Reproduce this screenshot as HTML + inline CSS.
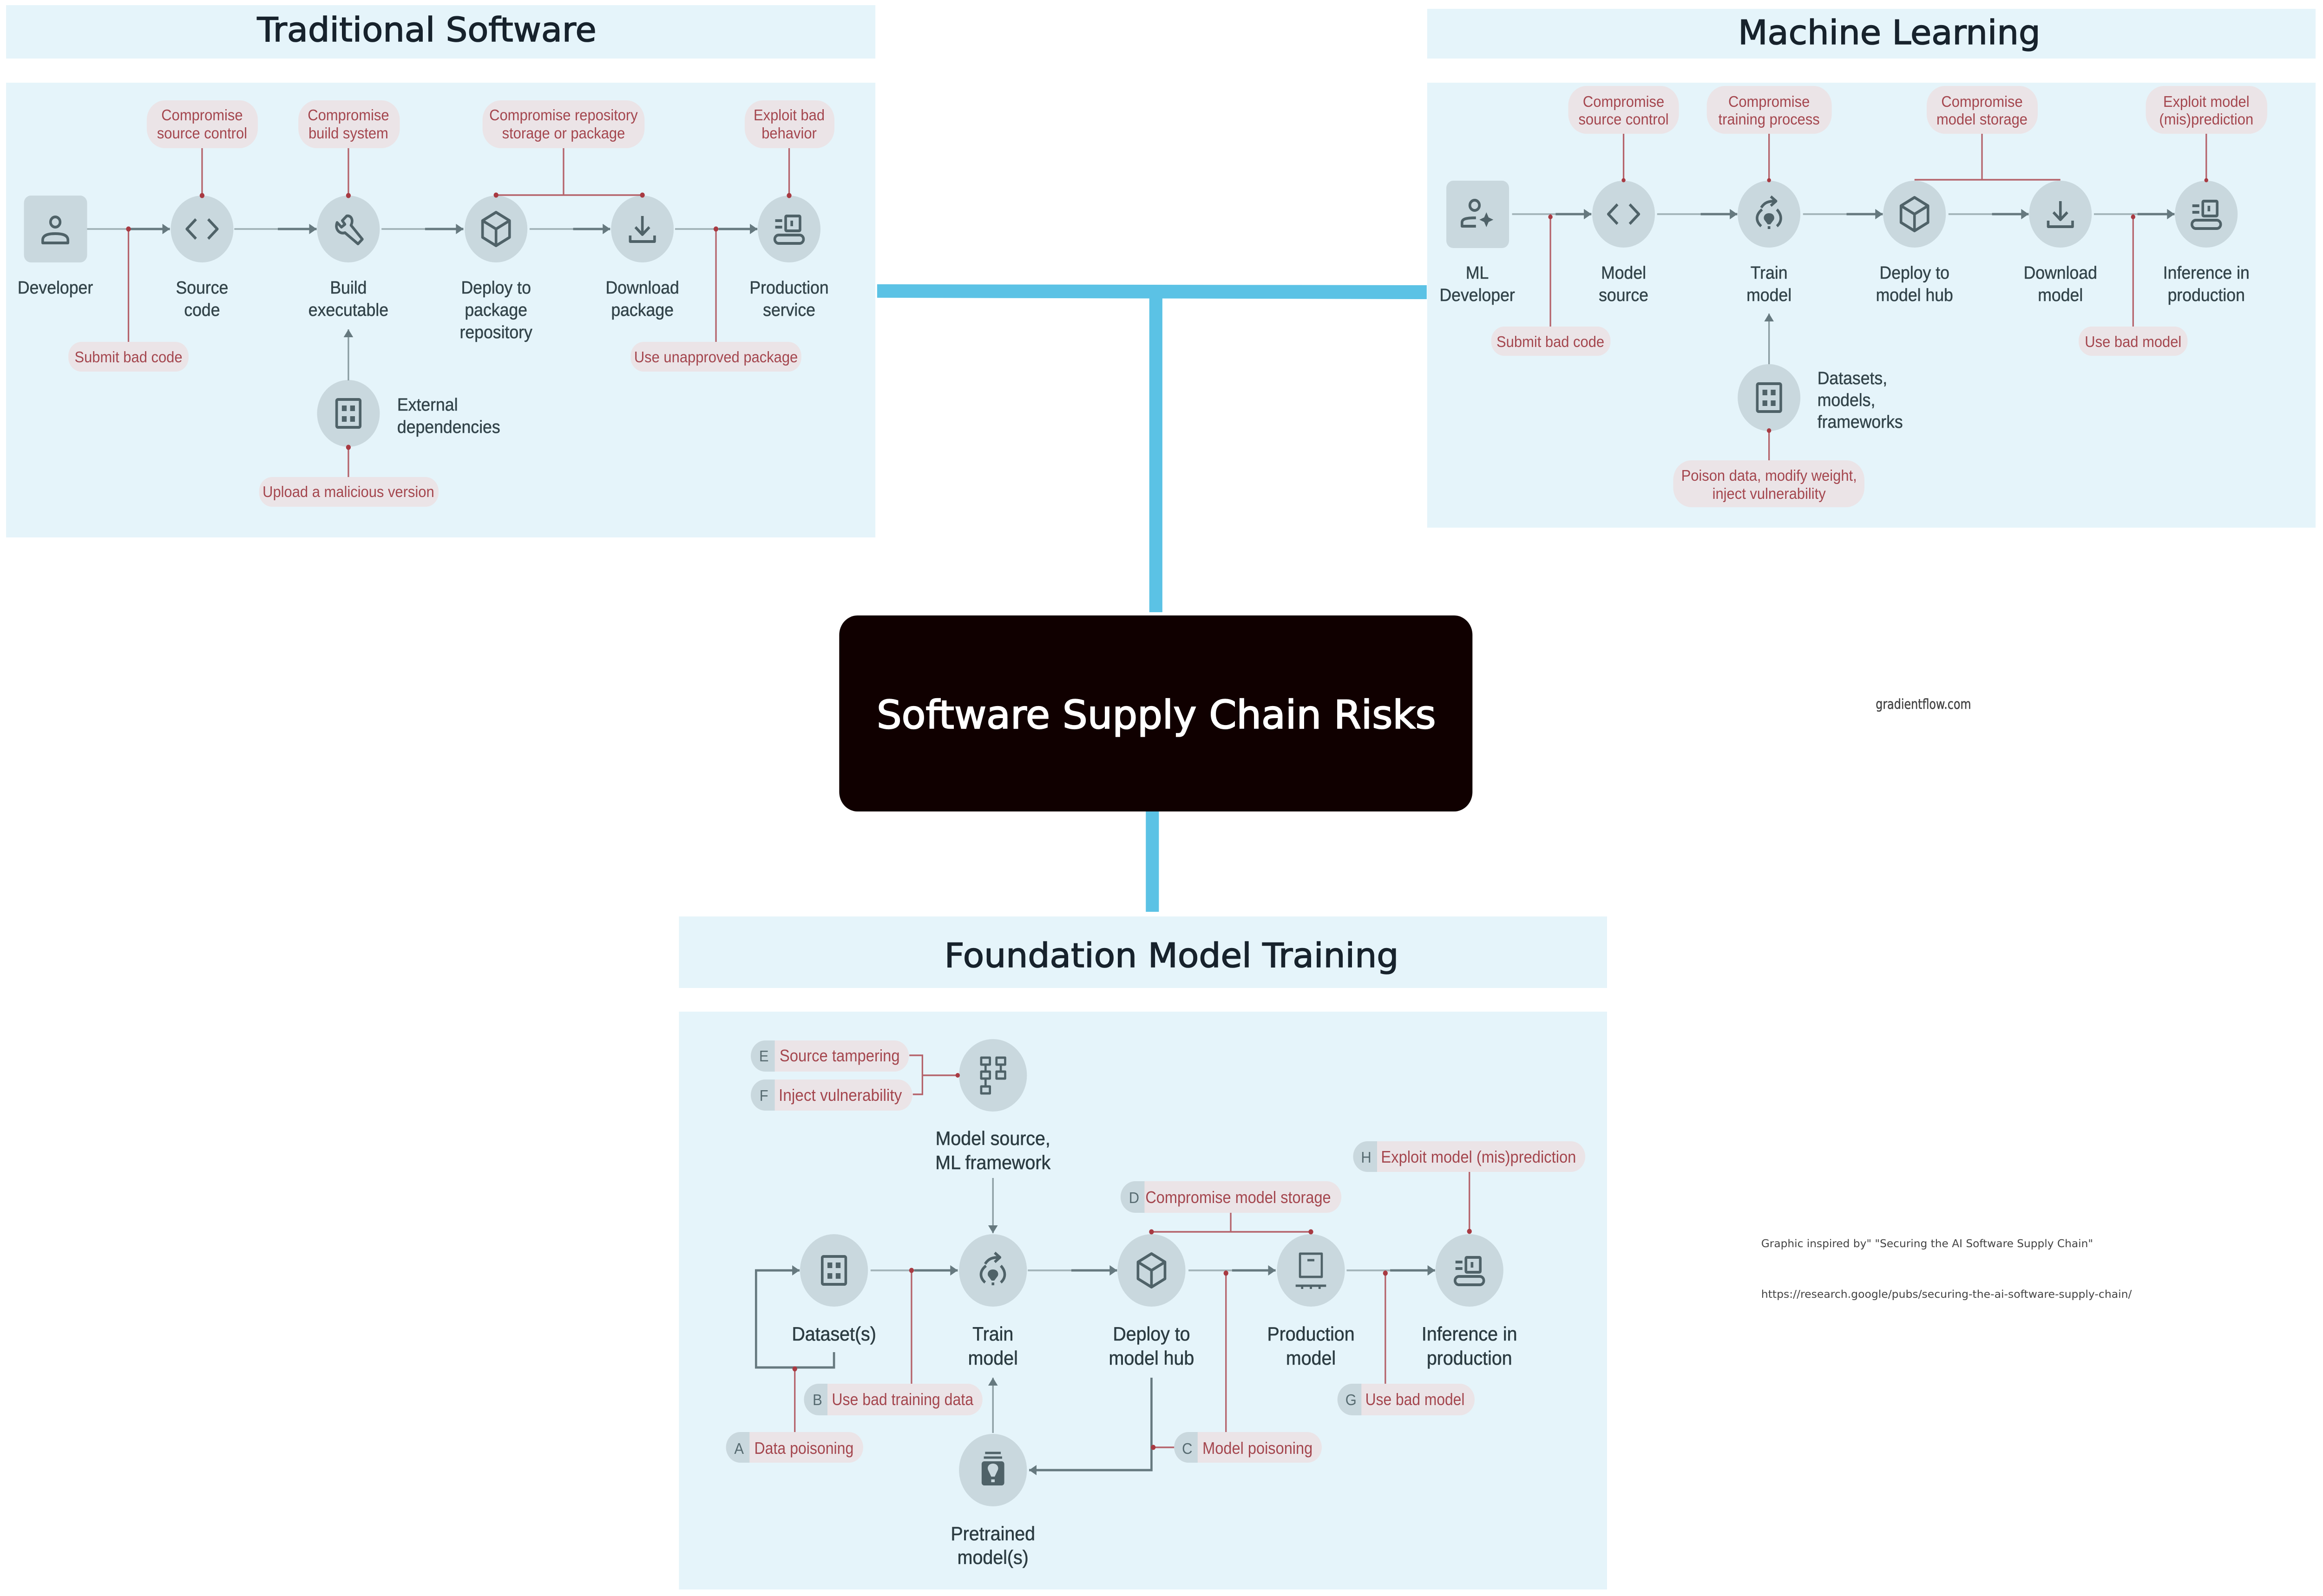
<!DOCTYPE html>
<html><head><meta charset="utf-8"><title>Software Supply Chain Risks</title>
<style>
html,body{margin:0;padding:0;background:#fff;width:100%;height:100%;overflow:hidden}
svg{display:block;position:absolute;left:0;top:0;width:100vw;height:100vh}
text{font-family:"Liberation Sans",sans-serif}
.t{font-family:"DejaVu Sans",sans-serif;font-size:72px;fill:#17222c;text-anchor:middle;stroke:#17222c;stroke-width:1.6}
.l{font-size:38px;fill:#33444a;text-anchor:middle;stroke:#33444a;stroke-width:.5}
.ls{font-size:38px;fill:#33444a;stroke:#33444a;stroke-width:.5}
.f{font-size:42px;fill:#2c3c42;text-anchor:middle;stroke:#2c3c42;stroke-width:.6}
.p{font-size:33px;fill:#a4464e;text-anchor:middle}
.q{font-size:36px;fill:#a4464e}
.k{font-size:33px;fill:#566a70;text-anchor:middle}
.n{fill:#c9d8de}
.pk{fill:#ebe4e7}
.gl{stroke:#a5b6bb;stroke-width:4;fill:none}
.g2{stroke:#66797f;stroke-width:5;fill:none;stroke-dasharray:0 100 400}
.gd{stroke:#66797f;stroke-width:5;fill:none}
.gt{stroke:#8a9ca1;stroke-width:3.5;fill:none}
.r{stroke:#b5636b;stroke-width:3.5;fill:none}
.d{fill:#a83a42}
.i{stroke:#4f6268;stroke-width:6;fill:none;stroke-linejoin:round}
.if{fill:#4f6268}
</style></head><body>
<svg xmlns="http://www.w3.org/2000/svg" viewBox="0 0 5334 3436" preserveAspectRatio="none">
<defs>
<marker id="a" markerUnits="userSpaceOnUse" markerWidth="22" markerHeight="26" refX="18" refY="13" orient="auto"><path d="M1 2 L18 13 L1 24Z" fill="#66797f"/></marker>
<g id="A1"><path d="M200 493 H390" marker-end="url(#a)"/><path d="M538 493 H727" marker-end="url(#a)"/><path d="M876 493 H1064" marker-end="url(#a)"/><path d="M1216 493 H1401" marker-end="url(#a)"/><path d="M1550 493 H1739" marker-end="url(#a)"/></g>
<g id="A2"><path d="M3472 461 H3654" marker-end="url(#a)"/><path d="M3805 461 H3989" marker-end="url(#a)"/><path d="M4140 461 H4323" marker-end="url(#a)"/><path d="M4474 461 H4658" marker-end="url(#a)"/><path d="M4808 461 H4993" marker-end="url(#a)"/></g>
<g id="A3"><path d="M1999 2735 H2199" marker-end="url(#a)"/><path d="M2360 2735 H2565" marker-end="url(#a)"/><path d="M2729 2735 H2929" marker-end="url(#a)"/><path d="M3092 2735 H3295" marker-end="url(#a)"/></g>
<g id="code" class="i"><path d="M-14 -21 L-35 0 L-14 21M14 -21 L35 0 L14 21"/></g>
<g id="wrench" class="i"><path d="M-4 -28 L-14 -18 L-8 -10 L-16 -4 L-26 -14 C-32 0 -20 12 -8 8 L22 32 L32 22 L6 -8 C12 -20 6 -30 -4 -28Z"/></g>
<g id="cube" class="i"><path d="M0 -36 L31 -18 V18 L0 36 L-31 18 V-18ZM-31 -18 L0 0 L31 -18M0 0 V36"/></g>
<g id="dl" class="i"><path d="M0 -28 V12M-16 -4 L0 12 L16 -4M-28 14 V27 H28 V14"/></g>
<g id="inf" class="i"><rect x="-8" y="-28" width="33" height="32" rx="2"/><path d="M-32 -18 H-16M-32 -4 H-16M6 -18 V-6" /><rect x="-33" y="13" width="66" height="18" rx="9"/></g>
<g id="grid"><rect class="i" x="-27" y="-30" width="54" height="60" rx="3"/><rect class="if" x="-15" y="-17" width="11" height="12"/><rect class="if" x="4" y="-17" width="11" height="12"/><rect class="if" x="-15" y="6" width="11" height="12"/><rect class="if" x="4" y="6" width="11" height="12"/></g>
<g id="train"><path class="i" d="M-16 -10 C-32 2 -30 16 -18 26M18 -10 C30 2 30 16 18 26M-18 -14 C-10 -26 0 -28 14 -28M4 -38 L16 -28 L4 -18"/><path class="if" d="M0 -2 C10 -2 14 6 11 12 L3 22 H-3 L-11 12 C-14 6 -10 -2 0 -2Z"/><rect class="if" x="-3" y="26" width="6" height="6"/></g>
<g id="flow" class="i" style="stroke-width:5"><rect x="-27" y="-38" width="20" height="15"/><rect x="-27" y="-8" width="20" height="15"/><rect x="-27" y="24" width="20" height="15"/><rect x="8" y="-38" width="20" height="15"/><rect x="8" y="-8" width="20" height="15"/><path d="M-17 -23 V-8M-17 7 V24M18 -23 V-8"/></g>
<g id="prod" class="i" style="stroke-width:5"><rect x="-25" y="-36" width="50" height="50"/><path d="M-8 -22 H8M-35 33 H35M-20 33 V40M0 33 V40M20 33 V40"/></g>
<g id="pre"><path class="i" d="M-18 -37 H18M-21 -27 H21" style="stroke-width:5"/><rect class="if" x="-26" y="-19" width="52" height="52" rx="6"/><path class="n" d="M0 -14 C10 -14 14 -6 11 0 L4 14 H-4 L-11 0 C-14 -6 -10 -14 0 -14Z"/><rect class="n" x="-4" y="20" width="8" height="6"/></g>
</defs>

<!-- connectors -->
<g fill="#5bc2e5">
<polygon points="2014,612 3276,614 3276,644 2014,641"/>
<rect x="2639" y="625" width="30" height="693"/>
<rect x="2631" y="1740" width="30" height="223"/>
</g>
<rect x="1927" y="1325" width="1454" height="422" rx="42" fill="#100000"/>
<text x="2655" y="1568" font-size="84" text-anchor="middle" textLength="1284" lengthAdjust="spacingAndGlyphs" style='font-family:"DejaVu Sans",sans-serif;fill:#fff;stroke:#fff;stroke-width:2.2'>Software Supply Chain Risks</text>

<text x="4307" y="1526" textLength="219" lengthAdjust="spacingAndGlyphs" style='font-family:"DejaVu Sans",sans-serif;font-size:29px;fill:#444;stroke:#444;stroke-width:.5'>gradientflow.com</text>
<text x="4044" y="2685" textLength="762" lengthAdjust="spacingAndGlyphs" style='font-family:"DejaVu Sans",sans-serif;font-size:23px;fill:#444'>Graphic inspired by"  "Securing the AI Software Supply Chain"</text>
<text x="4044" y="2794" textLength="851" lengthAdjust="spacingAndGlyphs" style='font-family:"DejaVu Sans",sans-serif;font-size:23px;fill:#444'>https://research.google/pubs/securing-the-ai-software-supply-chain/</text>

<!-- ============ Traditional ============ -->
<rect x="14" y="11" width="1996" height="115" fill="#e5f4fa"/>
<text class="t" x="980" y="89" textLength="779" lengthAdjust="spacingAndGlyphs">Traditional Software</text>
<rect x="14" y="178" width="1996" height="979" fill="#e5f4fa"/>

<rect class="n" x="55" y="421" width="145" height="144" rx="16"/>
<circle class="n" cx="464" cy="493" r="72"/><circle class="n" cx="800" cy="493" r="72"/><circle class="n" cx="1139" cy="493" r="72"/><circle class="n" cx="1475" cy="493" r="72"/><circle class="n" cx="1812" cy="493" r="72"/><circle class="n" cx="800" cy="890" r="72"/>
<g class="i" transform="translate(127,493)"><circle cx="0" cy="-15" r="11"/><path d="M-29 30 V24 C-29 12 -14 10 0 10 C14 10 29 12 29 24 V30Z"/></g>
<use href="#code" x="464" y="493"/><use href="#wrench" x="800" y="493"/><use href="#cube" x="1139" y="493"/><use href="#dl" x="1475" y="493"/><use href="#inf" x="1812" y="493"/><use href="#grid" x="800" y="890"/>

<use href="#A1" class="gl"/><use href="#A1" class="g2"/>
<path class="gt" d="M800 819 V709" marker-end="url(#a)"/>

<g class="pk">
<rect x="337" y="216" width="255" height="103" rx="42"/><rect x="685" y="216" width="233" height="103" rx="42"/><rect x="1108" y="216" width="372" height="103" rx="42"/><rect x="1710" y="216" width="206" height="103" rx="42"/><rect x="157" y="736" width="276" height="64" rx="30"/><rect x="1448" y="736" width="392" height="64" rx="30"/><rect x="595" y="1027" width="412" height="64" rx="30"/>
</g>
<path class="r" d="M464 319 V421M800 319 V421M1812 319 V421M1294 319 V420M1139 420 H1475M295 493 V736M1644 493 V736M800 963 V1027"/>
<g class="d"><circle cx="464" cy="421" r="5.5"/><circle cx="800" cy="421" r="5.5"/><circle cx="1812" cy="421" r="5.5"/><circle cx="1139" cy="420" r="5.5"/><circle cx="1475" cy="420" r="5.5"/><circle cx="295" cy="493" r="5.5"/><circle cx="1644" cy="493" r="5.5"/><circle cx="800" cy="963" r="5.5"/></g>

<text class="l" x="127" y="632">Developer</text>
<text class="l" x="464" y="632">Source</text><text class="l" x="464" y="680">code</text>
<text class="l" x="800" y="632">Build</text><text class="l" x="800" y="680">executable</text>
<text class="l" x="1139" y="632">Deploy to</text><text class="l" x="1139" y="680">package</text><text class="l" x="1139" y="728">repository</text>
<text class="l" x="1475" y="632">Download</text><text class="l" x="1475" y="680">package</text>
<text class="l" x="1812" y="632">Production</text><text class="l" x="1812" y="680">service</text>
<text class="ls" x="912" y="884">External</text><text class="ls" x="912" y="932">dependencies</text>

<text class="p" x="464" y="259">Compromise</text><text class="p" x="464" y="298">source control</text>
<text class="p" x="800" y="259">Compromise</text><text class="p" x="800" y="298">build system</text>
<text class="p" x="1294" y="259">Compromise repository</text><text class="p" x="1294" y="298">storage or package</text>
<text class="p" x="1812" y="259">Exploit bad</text><text class="p" x="1812" y="298">behavior</text>
<text class="p" x="295" y="780">Submit bad code</text>
<text class="p" x="1644" y="780">Use unapproved package</text>
<text class="p" x="800" y="1070">Upload a malicious version</text>

<!-- ============ ML ============ -->
<rect x="3277" y="19" width="2040" height="107" fill="#e5f4fa"/>
<text class="t" x="4338" y="95" textLength="694" lengthAdjust="spacingAndGlyphs">Machine Learning</text>
<rect x="3277" y="178" width="2040" height="958" fill="#e5f4fa"/>

<rect class="n" x="3321" y="389" width="144" height="145" rx="16"/>
<circle class="n" cx="3728" cy="461" r="72"/><circle class="n" cx="4062" cy="461" r="72"/><circle class="n" cx="4396" cy="461" r="72"/><circle class="n" cx="4731" cy="461" r="72"/><circle class="n" cx="5066" cy="461" r="72"/><circle class="n" cx="4062" cy="856" r="72"/>
<g transform="translate(3393,461)"><circle class="i" cx="-7" cy="-19" r="11"/><path class="i" d="M-4 8 C-26 8 -36 10 -36 18 V26 H-4"/><path class="if" d="M20 -4 L25 7 L36 12 L25 17 L20 28 L15 17 L4 12 L15 7Z"/></g>
<use href="#code" x="3728" y="461"/><use href="#train" x="4062" y="461"/><use href="#cube" x="4396" y="461"/><use href="#dl" x="4731" y="461"/><use href="#inf" x="5066" y="461"/><use href="#grid" x="4062" y="856"/>

<use href="#A2" class="gl"/><use href="#A2" class="g2"/>
<path class="gt" d="M4062 784 V675" marker-end="url(#a)"/>

<g class="pk">
<rect x="3601" y="185" width="254" height="103" rx="42"/><rect x="3919" y="185" width="287" height="103" rx="42"/><rect x="4424" y="185" width="255" height="103" rx="42"/><rect x="4927" y="185" width="279" height="103" rx="42"/><rect x="3424" y="703" width="274" height="63" rx="30"/><rect x="4773" y="703" width="250" height="63" rx="30"/><rect x="3842" y="991" width="439" height="101" rx="42"/>
</g>
<path class="r" d="M3728 288 V389M4062 288 V389M5066 288 V389M4551 288 V387M4396 387 H4731M3560 461 V703M4898 461 V703M4062 927 V991"/>
<g class="d"><circle cx="3728" cy="388" r="4.5"/><circle cx="4062" cy="388" r="4.5"/><circle cx="5066" cy="388" r="4.5"/><circle cx="3560" cy="467" r="5"/><circle cx="4898" cy="467" r="5"/><circle cx="4062" cy="927" r="5"/></g>

<text class="l" x="3392" y="600">ML</text><text class="l" x="3392" y="648">Developer</text>
<text class="l" x="3728" y="600">Model</text><text class="l" x="3728" y="648">source</text>
<text class="l" x="4062" y="600">Train</text><text class="l" x="4062" y="648">model</text>
<text class="l" x="4396" y="600">Deploy to</text><text class="l" x="4396" y="648">model hub</text>
<text class="l" x="4731" y="600">Download</text><text class="l" x="4731" y="648">model</text>
<text class="l" x="5066" y="600">Inference in</text><text class="l" x="5066" y="648">production</text>
<text class="ls" x="4173" y="827">Datasets,</text><text class="ls" x="4173" y="874">models,</text><text class="ls" x="4173" y="921">frameworks</text>

<text class="p" x="3728" y="230">Compromise</text><text class="p" x="3728" y="268">source control</text>
<text class="p" x="4062" y="230">Compromise</text><text class="p" x="4062" y="268">training process</text>
<text class="p" x="4551" y="230">Compromise</text><text class="p" x="4551" y="268">model storage</text>
<text class="p" x="5066" y="230">Exploit model</text><text class="p" x="5066" y="268">(mis)prediction</text>
<text class="p" x="3560" y="747">Submit bad code</text>
<text class="p" x="4898" y="747">Use bad model</text>
<text class="p" x="4062" y="1035">Poison data, modify weight,</text><text class="p" x="4062" y="1074">inject vulnerability</text>

<!-- ============ Foundation ============ -->
<rect x="1559" y="1973" width="2131" height="154" fill="#e5f4fa"/>
<text class="t" x="2690" y="2082" textLength="1043" lengthAdjust="spacingAndGlyphs">Foundation Model Training</text>
<rect x="1559" y="2178" width="2131" height="1244" fill="#e5f4fa"/>

<circle class="n" cx="1915" cy="2735" r="78"/><circle class="n" cx="2280" cy="2735" r="78"/><circle class="n" cx="2644" cy="2735" r="78"/><circle class="n" cx="3010" cy="2735" r="78"/><circle class="n" cx="3374" cy="2735" r="78"/><circle class="n" cx="2280" cy="2315" r="78"/><circle class="n" cx="2280" cy="3165" r="78"/>
<use href="#grid" x="1915" y="2735"/><use href="#train" x="2280" y="2735"/><use href="#cube" x="2644" y="2735"/><use href="#prod" x="3010" y="2735"/><use href="#inf" x="3374" y="2735"/><use href="#flow" x="2280" y="2315"/><use href="#pre" x="2280" y="3165"/>

<use href="#A3" class="gl"/><use href="#A3" class="g2"/>
<path class="gd" d="M1915 2911 V2944 H1736 V2735 H1836" marker-end="url(#a)"/>
<path class="gt" d="M2280 2536 V2655" marker-end="url(#a)"/>
<path class="gt" d="M2280 3085 V2966" marker-end="url(#a)"/>
<path class="gd" d="M2644 2966 V3165 H2363" marker-end="url(#a)"/>

<g class="pk">
<rect x="1724" y="2240" width="363" height="67" rx="33.5"/><rect x="1724" y="2324" width="371" height="67" rx="33.5"/><rect x="3107" y="2457" width="533" height="66" rx="33"/><rect x="2573" y="2543" width="507" height="68" rx="34"/><rect x="1846" y="2979" width="410" height="68" rx="34"/><rect x="3071" y="2979" width="315" height="68" rx="34"/><rect x="1667" y="3083" width="315" height="66" rx="33"/><rect x="2696" y="3083" width="339" height="66" rx="33"/>
</g>
<g class="n">
<path d="M1779 2240 H1757.5 A33.5 33.5 0 0 0 1757.5 2307 H1779Z"/>
<path d="M1779 2324 H1757.5 A33.5 33.5 0 0 0 1757.5 2391 H1779Z"/>
<path d="M3162 2457 H3140 A33 33 0 0 0 3140 2523 H3162Z"/>
<path d="M2628 2543 H2607 A34 34 0 0 0 2607 2611 H2628Z"/>
<path d="M1900 2979 H1880 A34 34 0 0 0 1880 3047 H1900Z"/>
<path d="M3126 2979 H3105 A34 34 0 0 0 3105 3047 H3126Z"/>
<path d="M1721 3083 H1700 A33 33 0 0 0 1700 3149 H1721Z"/>
<path d="M2750 3083 H2729 A33 33 0 0 0 2729 3149 H2750Z"/>
</g>

<path class="r" d="M2088 2272 H2118 V2356 H2096M2118 2315 H2198M3374 2523 V2650M2826 2611 V2652M2644 2652 H3010M2093 2735 V2979M2815 2735 V3083M3181 2735 V2979M1825 2947 V3083M2696 3116 H2648"/>
<g class="d"><circle cx="2199" cy="2315" r="5"/><circle cx="3374" cy="2651" r="5.5"/><circle cx="2644" cy="2652" r="5.5"/><circle cx="3010" cy="2652" r="5.5"/><circle cx="2093" cy="2735" r="5.5"/><circle cx="2815" cy="2741" r="5.5"/><circle cx="3181" cy="2741" r="5.5"/><circle cx="1825" cy="2947" r="5.5"/><circle cx="2648" cy="3116" r="5.5"/></g>

<text class="f" x="2280" y="2465">Model source,</text><text class="f" x="2280" y="2517">ML framework</text>
<text class="f" x="1915" y="2886">Dataset(s)</text>
<text class="f" x="2280" y="2886">Train</text><text class="f" x="2280" y="2938">model</text>
<text class="f" x="2644" y="2886">Deploy to</text><text class="f" x="2644" y="2938">model hub</text>
<text class="f" x="3010" y="2886">Production</text><text class="f" x="3010" y="2938">model</text>
<text class="f" x="3374" y="2886">Inference in</text><text class="f" x="3374" y="2938">production</text>
<text class="f" x="2280" y="3316">Pretrained</text><text class="f" x="2280" y="3367">model(s)</text>

<text class="k" x="1754" y="2285">E</text><text class="q" x="1790" y="2285" textLength="276" lengthAdjust="spacingAndGlyphs">Source tampering</text>
<text class="k" x="1754" y="2370">F</text><text class="q" x="1788" y="2370" textLength="283" lengthAdjust="spacingAndGlyphs">Inject vulnerability</text>
<text class="k" x="3137" y="2503">H</text><text class="q" x="3171" y="2503" textLength="448" lengthAdjust="spacingAndGlyphs">Exploit model (mis)prediction</text>
<text class="k" x="2604" y="2590">D</text><text class="q" x="2630" y="2590" textLength="426" lengthAdjust="spacingAndGlyphs">Compromise model storage</text>
<text class="k" x="1877" y="3025">B</text><text class="q" x="1910" y="3025" textLength="325" lengthAdjust="spacingAndGlyphs">Use bad training data</text>
<text class="k" x="3102" y="3025">G</text><text class="q" x="3135" y="3025" textLength="228" lengthAdjust="spacingAndGlyphs">Use bad model</text>
<text class="k" x="1697" y="3130">A</text><text class="q" x="1732" y="3130" textLength="228" lengthAdjust="spacingAndGlyphs">Data poisoning</text>
<text class="k" x="2726" y="3130">C</text><text class="q" x="2761" y="3130" textLength="253" lengthAdjust="spacingAndGlyphs">Model poisoning</text>
</svg>
</body></html>
